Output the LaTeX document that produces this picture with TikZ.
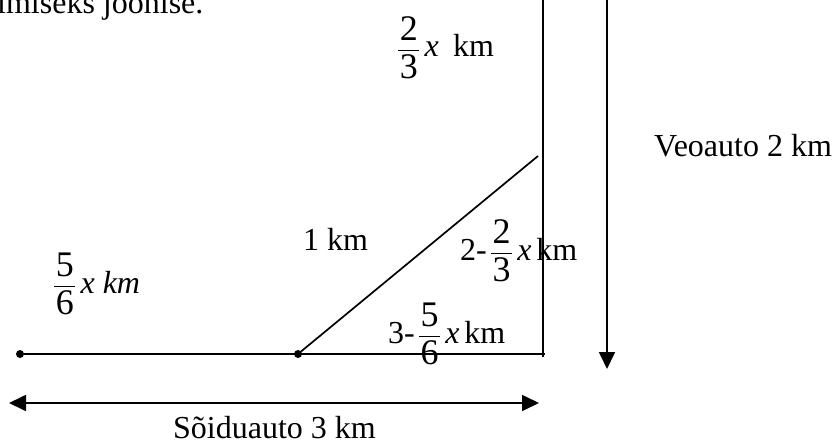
\documentclass[tikz,border=0pt]{standalone}
\usepackage{amsmath}
\usepackage{fontspec}
\setmainfont{Liberation Serif}
\usetikzlibrary{arrows.meta}
\newcommand{\fd}[1]{\mbox{\fontsize{36}{40}\selectfont\kern1.5pt #1\kern1.5pt}}
\newcommand{\myfr}[2]{\ensuremath{\dfrac{\fd{#1}}{\fd{#2}}}}
\begin{document}
\begin{tikzpicture}[x=1pt,y=-1pt,
  lbl/.style={inner sep=0pt,anchor=base west,font=\fontsize{32}{38}\selectfont},
  ln/.style={line width=1.7pt},
  dotnode/.style={circle,fill=black,inner sep=0pt,minimum size=8pt},
  >={Triangle[length=17pt,width=16pt]}]
\useasboundingbox (0,0) rectangle (836,444);
% points
\node[dotnode] (d1) at (20,354) {};
\node[dotnode] (d2) at (298,354) {};
\coordinate (hr) at (545,354);
\coordinate (vt) at (543,-5);
\coordinate (vb) at (543,357);
\coordinate (dg) at (538,156);
\coordinate (at) at (607,-5);
\coordinate (ab) at (607,369);
\coordinate (hl) at (9,403);
\coordinate (hrr) at (539,403);
% lines
\draw[ln] (d1) -- (hr);
\draw[ln] (vt) -- (vb);
\draw[ln] (d2.center) -- (dg);
\draw[ln,->] (at) -- (ab);
\draw[ln,<->] (hl) -- (hrr);
% texts
\node[lbl] (t0) at (-3,14) {imiseks joonise.};
\node[lbl] (t1) at (397,57) {\myfr{2}{3}\kern4pt\textit{x}\hspace{0.45em}km};
\node[lbl] (t2) at (654,157) {Veoauto 2 km};
\node[lbl] (t3) at (303,250) {1 km};
\node[lbl] (t4) at (460,260) {2-\kern3pt\myfr{2}{3}\kern4pt\textit{x}\kern5pt km};
\node[lbl] (t5) at (53,293) {\myfr{5}{6}\kern4pt\textit{x km}};
\node[lbl] (t6) at (388,343) {3-\kern3pt\myfr{5}{6}\kern4pt\textit{x}\kern5pt km};
\node[lbl] (t7) at (173,438) {Sõiduauto 3 km};
\end{tikzpicture}
\end{document}
